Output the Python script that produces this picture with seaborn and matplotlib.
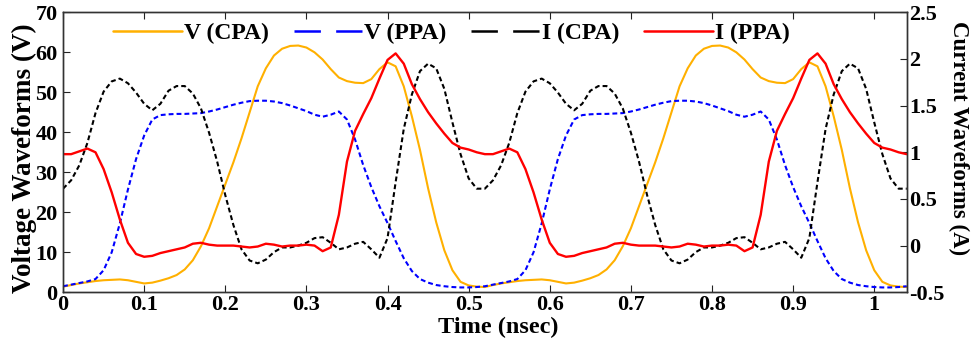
import numpy as np
import pandas as pd
import matplotlib
matplotlib.use("Agg")
import matplotlib.pyplot as plt
from matplotlib.lines import Line2D
import seaborn as sns

# ---------------- data ----------------
time_ns = np.round(np.arange(0, 105) * 0.01, 2)

v_cpa = [1.4, 1.8, 2.2, 2.5, 2.8, 3.0, 3.1, 3.2, 3.0, 2.6,
         2.2, 2.4, 2.9, 3.5, 4.3, 5.7, 8.0, 11.5, 16.0, 21.5,
         27.0, 32.5, 38.5, 45.0, 51.5, 56.0, 59.2, 60.9, 61.6, 61.7,
         61.2, 60.0, 58.2, 55.8, 53.7, 52.8, 52.4, 52.3, 53.3, 55.8,
         57.5, 56.5, 51.5, 44.0, 35.6, 26.0, 17.5, 10.5, 5.5, 2.6,
         1.7, 1.4, 1.3,
         1.8, 2.2, 2.5, 2.8, 3.0, 3.1, 3.2, 3.0, 2.6,
         2.2, 2.4, 2.9, 3.5, 4.3, 5.7, 8.0, 11.5, 16.0, 21.5,
         27.0, 32.5, 38.5, 45.0, 51.5, 56.0, 59.2, 60.9, 61.6, 61.7,
         61.2, 60.0, 58.2, 55.8, 53.7, 52.8, 52.4, 52.3, 53.3, 55.8,
         57.5, 56.5, 51.5, 44.0, 35.6, 26.0, 17.5, 10.5, 5.5, 2.6,
         1.7, 1.4, 1.3]

v_ppa = [1.5, 1.9, 2.3, 2.7, 3.3, 5.5, 10.0, 17.2, 25.7, 33.3,
         39.2, 43.2, 44.3, 44.5, 44.6, 44.6, 44.7, 44.8, 45.2, 45.7,
         46.3, 46.9, 47.4, 47.8, 47.9, 47.9, 47.7, 47.3, 46.7, 46.0,
         45.3, 44.4, 43.9, 44.4, 45.2, 43.2, 38.2, 31.8, 26.3, 21.5,
         17.3, 12.8, 8.5, 5.3, 3.3, 2.4, 1.8, 1.5, 1.3, 1.2,
         1.2, 1.3, 1.5,
         1.9, 2.3, 2.7, 3.3, 5.5, 10.0, 17.2, 25.7, 33.3,
         39.2, 43.2, 44.3, 44.5, 44.6, 44.6, 44.7, 44.8, 45.2, 45.7,
         46.3, 46.9, 47.4, 47.8, 47.9, 47.9, 47.7, 47.3, 46.7, 46.0,
         45.3, 44.4, 43.9, 44.4, 45.2, 43.2, 38.2, 31.8, 26.3, 21.5,
         17.3, 12.8, 8.5, 5.3, 3.3, 2.4, 1.8, 1.5, 1.3, 1.2,
         1.2, 1.3, 1.5]

i_cpa = [0.61, 0.70, 0.86, 1.10, 1.42, 1.65, 1.76, 1.79, 1.74, 1.64,
         1.52, 1.45, 1.52, 1.66, 1.71, 1.71, 1.63, 1.47, 1.21, 0.90,
         0.54, 0.22, -0.04, -0.16, -0.19, -0.15, -0.07, -0.02, -0.02, 0.00,
         0.03, 0.08, 0.09, 0.03, -0.04, -0.02, 0.02, 0.04, -0.04, -0.13,
         0.08, 0.68, 1.25, 1.62, 1.87, 1.95, 1.90, 1.68, 1.32, 0.98,
         0.72, 0.61, 0.61,
         0.70, 0.86, 1.10, 1.42, 1.65, 1.76, 1.79, 1.74, 1.64,
         1.52, 1.45, 1.52, 1.66, 1.71, 1.71, 1.63, 1.47, 1.21, 0.90,
         0.54, 0.22, -0.04, -0.16, -0.19, -0.15, -0.07, -0.02, -0.02, 0.00,
         0.03, 0.08, 0.09, 0.03, -0.04, -0.02, 0.02, 0.04, -0.04, -0.13,
         0.08, 0.68, 1.25, 1.62, 1.87, 1.95, 1.90, 1.68, 1.32, 0.98,
         0.72, 0.61, 0.61]

i_ppa = [0.98, 0.98, 1.01, 1.04, 1.00, 0.82, 0.57, 0.28, 0.03, -0.09,
         -0.12, -0.11, -0.08, -0.06, -0.04, -0.02, 0.02, 0.03, 0.01, 0.00,
         0.00, 0.00, -0.01, -0.02, -0.01, 0.02, 0.01, -0.01, 0.00, 0.00,
         0.01, 0.00, -0.06, -0.02, 0.33, 0.90, 1.23, 1.41, 1.58, 1.79,
         1.99, 2.06, 1.95, 1.73, 1.57, 1.43, 1.31, 1.20, 1.10, 1.05,
         1.03, 1.00, 0.98,
         0.98, 1.01, 1.04, 1.00, 0.82, 0.57, 0.28, 0.03, -0.09,
         -0.12, -0.11, -0.08, -0.06, -0.04, -0.02, 0.02, 0.03, 0.01, 0.00,
         0.00, 0.00, -0.01, -0.02, -0.01, 0.02, 0.01, -0.01, 0.00, 0.00,
         0.01, 0.00, -0.06, -0.02, 0.33, 0.90, 1.23, 1.41, 1.58, 1.79,
         1.99, 2.06, 1.95, 1.73, 1.57, 1.43, 1.31, 1.20, 1.10, 1.05,
         1.03, 1.00, 0.98]

series_labels = ["V (CPA)", "V (PPA)", "I (CPA)", "I (PPA)"]
x_ticks = [0, 0.1, 0.2, 0.3, 0.4, 0.5, 0.6, 0.7, 0.8, 0.9, 1.0]
x_ticklabels = ["0", "0.1", "0.2", "0.3", "0.4", "0.5", "0.6", "0.7", "0.8", "0.9", "1"]
v_ticks = [0, 10, 20, 30, 40, 50, 60, 70]
i_ticks = [-0.5, 0, 0.5, 1, 1.5, 2, 2.5]
i_ticklabels = ["-0.5", "0", "0.5", "1", "1.5", "2", "2.5"]

df = pd.DataFrame({"t": time_ns, "v_cpa": v_cpa, "v_ppa": v_ppa,
                   "i_cpa": i_cpa, "i_ppa": i_ppa})

# ---------------- style ----------------
sns.set_theme(style="white")
plt.rcParams["font.family"] = ["Liberation Serif", "DejaVu Serif"]
plt.rcParams["font.weight"] = "bold"
plt.rcParams["text.color"] = "black"
plt.rcParams["axes.labelcolor"] = "black"
plt.rcParams["xtick.color"] = "black"
plt.rcParams["ytick.color"] = "black"
plt.rcParams["lines.scale_dashes"] = False

ORANGE = "#FFB000"
BLUE = "#0000FF"
BLACK = "#000000"
RED = "#FF0000"

fig = plt.figure(figsize=(9.76, 3.43), dpi=100)
ax = fig.add_axes([0.0646, 0.148, 0.929 - 0.0646, 0.964 - 0.148])
ax2 = ax.twinx()

sns.lineplot(data=df, x="t", y="v_cpa", ax=ax, color=ORANGE, lw=1.5, legend=False)
sns.lineplot(data=df, x="t", y="v_ppa", ax=ax, color=BLUE, lw=1.5, legend=False)
ax.lines[-1].set_dashes((3.5, 2.2))
sns.lineplot(data=df, x="t", y="i_cpa", ax=ax2, color=BLACK, lw=1.5, legend=False)
ax2.lines[-1].set_dashes((3.5, 2.2))
sns.lineplot(data=df, x="t", y="i_ppa", ax=ax2, color=RED, lw=1.7, legend=False)

ax.set_xlim(0, 1.04)
ax.set_ylim(0, 70)
ax2.set_ylim(-0.5, 2.5)
ax.set_xticks(x_ticks)
ax.set_xticklabels(x_ticklabels)
ax.set_yticks(v_ticks)
ax2.set_yticks(i_ticks)
ax2.set_yticklabels(i_ticklabels)

for lab in ax.get_xticklabels() + ax.get_yticklabels() + ax2.get_yticklabels():
    lab.set_fontsize(16)
    lab.set_fontweight("bold")
    lab.set_color("black")

ax.tick_params(axis="x", direction="in", length=5, width=0.8, pad=2, top=True, bottom=True, colors="#222222", labelcolor="black")
ax.tick_params(axis="y", direction="in", length=5, width=0.8, pad=4, colors="#222222", labelcolor="black")
ax2.tick_params(axis="y", direction="in", length=5, width=0.8, pad=2, colors="#222222", labelcolor="black")

for a in (ax, ax2):
    for s in a.spines.values():
        s.set_color("#333333")
        s.set_linewidth(1.0)
        s.set_visible(True)

ax.set_xlabel("Time (nsec)", fontsize=17.5, fontweight="bold", color="black")
ax.set_ylabel("Voltage Waveforms (V)", fontsize=19.5, fontweight="bold", color="black")
ax2.set_ylabel("Current Waveforms (A)", fontsize=16.5, fontweight="bold", rotation=270, color="black")
ax.xaxis.label.set_va("center")
ax.xaxis.set_label_coords((498 - 63) / 843.7, -0.125)
ax.yaxis.label.set_va("center")
ax.yaxis.set_label_coords((24 - 63) / 843.7, 0.48)
ax2.yaxis.label.set_va("center")
ax2.yaxis.set_label_coords((959 - 63) / 843.7, 0.55)

handles = [
    Line2D([], [], color=ORANGE, lw=1.8),
    Line2D([], [], color=BLUE, lw=1.8, dashes=(19, 11)),
    Line2D([], [], color=BLACK, lw=1.8, dashes=(19, 11)),
    Line2D([], [], color=RED, lw=1.8),
]
leg = ax2.legend(handles, series_labels, loc="center left",
                 bbox_to_anchor=((113 - 63) / 843.7, (292.3 - 33) / 280),
                 ncol=4, frameon=False, borderpad=0, borderaxespad=0,
                 handlelength=2.9, handletextpad=0.1, columnspacing=1.05,
                 prop={"family": "Liberation Serif", "weight": "bold", "size": 17})
for txt in leg.get_texts():
    txt.set_color("black")

fig.savefig("out.png", dpi=100)
